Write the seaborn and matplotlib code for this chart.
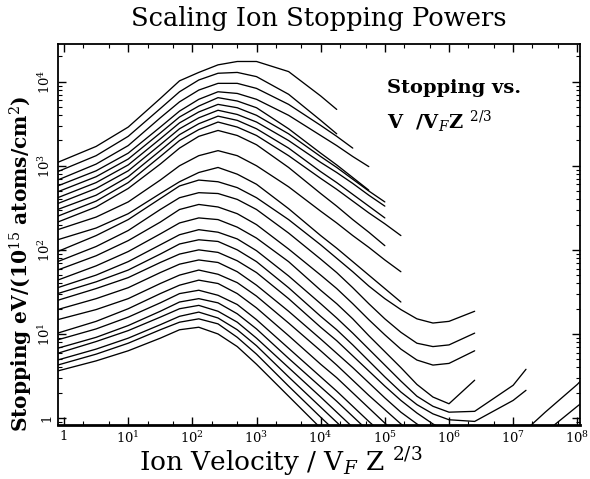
import numpy as np
import pandas as pd
import matplotlib
matplotlib.use("Agg")
import matplotlib.pyplot as plt
from matplotlib.ticker import LogLocator, FuncFormatter, NullFormatter
import seaborn as sns

# log10( ion velocity / V_F Z^2/3 ) -- common grid for all curves
log_vel = [-0.1, 0.5, 1.0, 1.5, 1.8, 2.1, 2.4, 2.7, 3.0, 3.5, 4.0, 4.25, 4.5, 4.75,
           5.0, 5.25, 5.5, 5.75, 6.0, 6.4, 7.0, 7.2, 7.5, 8.0, 8.1]

# log10 stopping, heavy ions (curves end before the minimum)
heavy_ions = [
    [3.04, 3.23, 3.46, 3.80, 4.01, 4.11, 4.20, 4.24, 4.24, 4.12, 3.83, 3.67],
    [2.93, 3.12, 3.35, 3.68, 3.88, 4.02, 4.10, 4.11, 4.06, 3.85, 3.54, 3.38],
    [2.83, 3.02, 3.24, 3.57, 3.76, 3.90, 3.98, 3.98, 3.92, 3.73, 3.48, 3.35, 3.21],
    [2.76, 2.94, 3.15, 3.46, 3.65, 3.79, 3.88, 3.86, 3.79, 3.60, 3.36, 3.24, 3.11, 2.99],
    [2.69, 2.87, 3.08, 3.39, 3.58, 3.71, 3.81, 3.77, 3.69, 3.44, 3.15, 3.01, 2.86, 2.71],
    [2.62, 2.80, 3.01, 3.32, 3.51, 3.64, 3.73, 3.69, 3.60, 3.38, 3.11, 2.98, 2.84, 2.70, 2.57],
    [2.55, 2.73, 2.94, 3.25, 3.44, 3.57, 3.66, 3.61, 3.52, 3.30, 3.04, 2.92, 2.79, 2.65, 2.52],
    [2.48, 2.65, 2.87, 3.18, 3.37, 3.50, 3.59, 3.54, 3.44, 3.21, 2.93, 2.80, 2.66, 2.52, 2.38],
    [2.40, 2.58, 2.80, 3.11, 3.30, 3.43, 3.52, 3.46, 3.36, 3.12, 2.85, 2.72, 2.58, 2.44, 2.31, 2.17],
    [2.33, 2.51, 2.73, 3.02, 3.21, 3.35, 3.42, 3.36, 3.25, 2.98, 2.67, 2.52, 2.36, 2.21, 2.05],
    [2.24, 2.39, 2.57, 2.83, 3.00, 3.12, 3.18, 3.12, 3.00, 2.75, 2.46, 2.32, 2.17, 2.03, 1.88, 1.74],
    [2.12, 2.26, 2.43, 2.67, 2.81, 2.92, 2.98, 2.90, 2.78, 2.49, 2.17, 2.02, 1.86, 1.70, 1.54, 1.38],
]

# log10 stopping, medium ions (minimum and relativistic rise visible)
mid_ions = [
    [1.98, 2.17, 2.36, 2.61, 2.76, 2.83, 2.81, 2.74, 2.62, 2.36, 2.06, 1.90, 1.74, 1.57,
     1.42, 1.29, 1.18, 1.13, 1.15, 1.27],
    [1.86, 2.04, 2.23, 2.48, 2.62, 2.68, 2.67, 2.60, 2.48, 2.20, 1.89, 1.73, 1.55, 1.36,
     1.18, 1.02, 0.89, 0.85, 0.87, 1.01],
    [1.76, 1.93, 2.11, 2.33, 2.48, 2.54, 2.51, 2.43, 2.30, 2.01, 1.70, 1.54, 1.36, 1.17,
     0.99, 0.82, 0.69, 0.63, 0.65, 0.80],
    [1.64, 1.81, 1.98, 2.19, 2.32, 2.38, 2.36, 2.27, 2.14, 1.86, 1.52, 1.36, 1.18, 0.98,
     0.79, 0.60, 0.40, 0.25, 0.17, 0.45],
    [1.55, 1.70, 1.86, 2.06, 2.18, 2.24, 2.21, 2.13, 1.99, 1.69, 1.36, 1.19, 1.01, 0.82,
     0.63, 0.44, 0.26, 0.14, 0.07, 0.08, 0.39, 0.58],
    [1.48, 1.62, 1.76, 1.95, 2.07, 2.12, 2.10, 2.00, 1.86, 1.55, 1.21, 1.05, 0.87, 0.68,
     0.49, 0.31, 0.16, 0.05, -0.02, -0.04, 0.21, 0.33],
]

# log10 stopping, light ions (drop out of the frame)
light_ions = [
    [1.40, 1.54, 1.67, 1.85, 1.95, 2.00, 1.97, 1.87, 1.73, 1.42, 1.08, 0.92, 0.74, 0.56,
     0.38, 0.21, 0.06, -0.07, -0.17, -0.26, -0.24, -0.14, 0.07, 0.40, 0.48],
    [1.29, 1.42, 1.55, 1.73, 1.83, 1.88, 1.85, 1.74, 1.58, 1.27, 0.94, 0.77, 0.60, 0.42,
     0.24, 0.07, -0.07, -0.20, -0.30, -0.38, -0.38, -0.33, -0.17, 0.14, 0.20],
    [1.17, 1.29, 1.42, 1.60, 1.70, 1.76, 1.71, 1.61, 1.45, 1.13, 0.80, 0.63, 0.45, 0.27,
     0.10, -0.07, -0.24],
    [1.01, 1.15, 1.30, 1.48, 1.58, 1.64, 1.60, 1.48, 1.31, 0.98, 0.64, 0.48, 0.30, 0.12,
     -0.06, -0.24],
    [0.93, 1.06, 1.20, 1.37, 1.48, 1.52, 1.46, 1.35, 1.17, 0.83, 0.49, 0.32, 0.14, -0.04, -0.21],
    [0.83, 0.96, 1.10, 1.27, 1.38, 1.42, 1.37, 1.24, 1.06, 0.71, 0.37, 0.20, 0.02, -0.16],
    [0.77, 0.91, 1.04, 1.20, 1.30, 1.34, 1.27, 1.14, 0.95, 0.60, 0.25, 0.07, -0.11],
    [0.69, 0.82, 0.95, 1.11, 1.21, 1.26, 1.19, 1.05, 0.86, 0.49, 0.13, -0.05, -0.23],
    [0.63, 0.76, 0.89, 1.05, 1.14, 1.18, 1.12, 0.96, 0.76, 0.38, 0.01, -0.17],
    [0.56, 0.68, 0.80, 0.95, 1.05, 1.08, 1.00, 0.85, 0.64, 0.26, -0.12],
]

xtick_vals = [1, 1e1, 1e2, 1e3, 1e4, 1e5, 1e6, 1e7, 1e8]
ytick_vals = [1, 1e1, 1e2, 1e3, 1e4]

# long table for seaborn
rows = []
for grp, curves in (("heavy", heavy_ions), ("mid", mid_ions), ("light", light_ions)):
    for i, c in enumerate(curves):
        for xv, yv in zip(log_vel, c):
            rows.append((f"{grp}{i}", 10 ** xv, 10 ** yv))
df = pd.DataFrame(rows, columns=["ion", "velocity", "stopping"])

sns.set_style("ticks")
plt.rcParams["font.family"] = ["DejaVu Serif"]
plt.rcParams["mathtext.fontset"] = "dejavuserif"
plt.rcParams["text.color"] = "black"
plt.rcParams["axes.labelcolor"] = "black"
plt.rcParams["xtick.color"] = "black"
plt.rcParams["ytick.color"] = "black"
plt.rcParams["axes.edgecolor"] = "black"

fig = plt.figure(figsize=(5.9, 4.79), dpi=100)
ax = fig.add_axes([0.098, 0.113, 0.885, 0.795])

sns.lineplot(data=df, x="velocity", y="stopping", units="ion", estimator=None,
             color="black", lw=0.95, ax=ax, legend=False)

ax.set_xscale("log")
ax.set_yscale("log")
ax.set_xlim(0.8, 1.1e8)
ax.set_ylim(0.83, 2.8e4)


def dec_fmt(v, pos):
    if abs(v - 1) < 1e-9:
        return "1"
    return r"$10^{%d}$" % int(round(np.log10(v)))


ax.set_xticks(xtick_vals)
ax.set_yticks(ytick_vals)
ax.xaxis.set_major_formatter(FuncFormatter(dec_fmt))
ax.yaxis.set_major_formatter(FuncFormatter(dec_fmt))
ax.xaxis.set_minor_locator(LogLocator(base=10, subs=(2, 5), numticks=20))
ax.yaxis.set_minor_locator(LogLocator(base=10, subs=np.arange(2, 10), numticks=20))
ax.xaxis.set_minor_formatter(NullFormatter())
ax.yaxis.set_minor_formatter(NullFormatter())

ax.tick_params(which="both", direction="in", top=True, right=True, colors="black")
ax.tick_params(which="major", length=6, width=1, labelsize=9.5)
ax.tick_params(which="minor", length=3, width=0.8)
for lab in ax.get_yticklabels():
    lab.set_rotation(90)
    lab.set_va("center")

for s in ax.spines.values():
    s.set_linewidth(1.3)
ax.spines["bottom"].set_linewidth(2.0)

ax.set_xlabel("")
ax.set_ylabel("")

fig.text(0.54, 0.962, "Scaling Ion Stopping Powers", ha="center", va="center", fontsize=18.5)
fig.text(0.475, 0.035, r"Ion Velocity / V$_F$ Z $^{2/3}$", ha="center", va="center",
         fontsize=19)
fig.text(0.037, 0.45, r"Stopping eV/(10$^{15}$ atoms/cm$^2$)", ha="center", va="center",
         rotation=90, fontsize=14.5, fontweight="bold")
ax.text(0.63, 0.885, "Stopping vs.", transform=ax.transAxes, fontsize=14,
        fontweight="bold", ha="left", va="center")
ax.text(0.63, 0.795, r"V  /V$_F$Z $^{2/3}$", transform=ax.transAxes, fontsize=14,
        fontweight="bold", ha="left", va="center")

fig.savefig("out.png", dpi=100, facecolor="white")
